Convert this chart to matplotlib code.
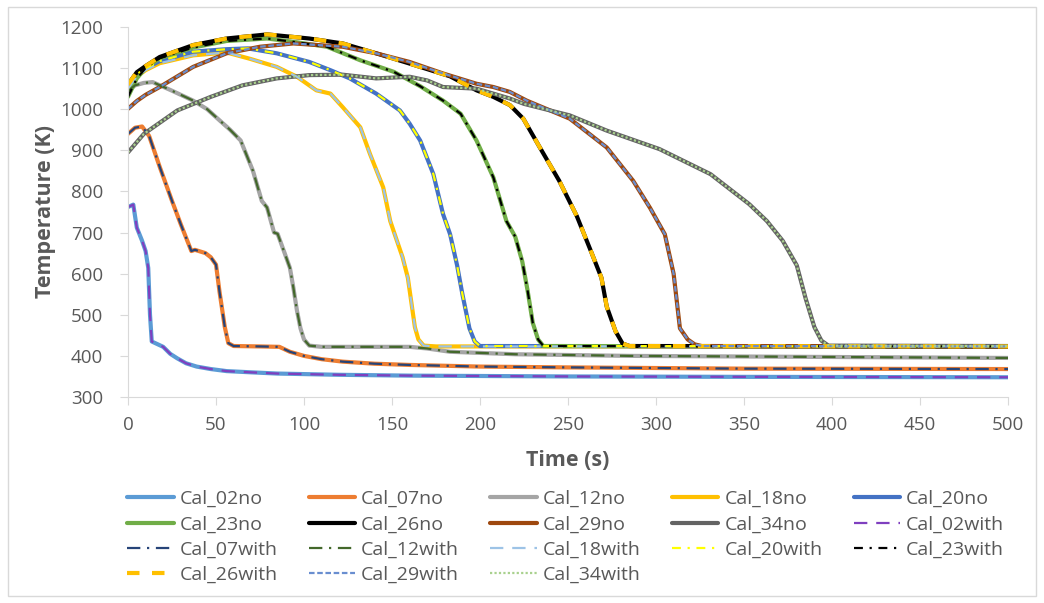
import matplotlib
matplotlib.use("Agg")
from matplotlib import pyplot as plt
from matplotlib.patches import Rectangle

plt.rcParams['font.family'] = ['Open Sans', 'DejaVu Sans']

# time (s) / temperature (K), one pair per calculation case
t_02 = [0, 3, 5, 8, 10, 11.5, 12.5, 13.5, 17, 20, 24, 28, 33, 39, 47, 56, 70, 85, 120, 160, 250, 350, 500]
T_02 = [762, 768, 712, 680, 655, 614, 500, 435, 428, 422, 405, 394, 382, 374, 368, 363, 360, 357, 354, 352, 350, 349, 348]

t_07 = [0, 4, 8, 12, 18, 25, 30, 36, 38, 44, 47, 50, 52, 55, 57, 60, 75, 86, 92, 100, 110, 122, 140, 160, 200, 250, 350, 500]
T_07 = [940, 955, 958, 935, 860, 777, 720, 655, 658, 650, 640, 622, 556, 470, 431, 424, 423, 422, 410, 400, 392, 386, 381, 378, 374, 372, 369, 368]

t_12 = [0, 4, 9, 14, 25, 37, 45, 52, 58, 64, 71, 76, 79, 83, 85, 89, 92, 94, 96, 98, 100, 103, 110, 160, 170, 183, 220, 285, 500]
T_12 = [1045, 1058, 1064, 1066, 1045, 1021, 1000, 973, 950, 924, 850, 777, 761, 700, 697, 650, 614, 565, 510, 467, 440, 425, 422, 422, 418, 410, 404, 400, 395]

t_18 = [0, 5, 10, 18, 37, 56, 69, 84.5, 96, 107, 115, 122, 132, 137.5, 145, 149, 152, 156, 159, 161, 163, 165, 168, 175, 500]
T_18 = [1050, 1080, 1095, 1112, 1131, 1138, 1123, 1103, 1079, 1046, 1038, 1005, 956, 891, 810, 728, 690, 640, 590, 530, 470, 440, 425, 423, 423]

t_20 = [0, 5, 10, 18, 37, 56, 68, 84.5, 103, 115, 126, 141, 154.5, 160, 166, 173.5, 179, 183, 187, 190, 194, 197, 200, 500]
T_20 = [1060, 1085, 1100, 1117, 1140, 1146, 1148, 1136, 1115, 1095, 1075, 1038, 997, 965, 924, 842, 745, 696, 620, 550, 467, 435, 424, 423]

t_23 = [0, 5, 10, 18, 37, 56, 79, 94, 113, 132, 151, 166, 179, 189, 198, 207.6, 215, 220, 224, 227, 230, 233, 236, 500]
T_23 = [1030, 1075, 1100, 1124, 1150, 1166, 1172, 1164, 1152, 1119, 1091, 1056, 1021, 989, 924, 834, 728, 690, 630, 560, 480, 440, 424, 423]

t_26 = [0, 5, 10, 18, 37, 56, 79, 103, 122, 141, 160, 183, 198, 207.6, 217, 224.6, 234, 245, 255, 263, 269, 272, 277, 281, 285, 500]
T_26 = [1060, 1090, 1105, 1127, 1156, 1172, 1182, 1172, 1160, 1136, 1111, 1080, 1046, 1030, 1010, 977, 907, 826, 740, 655, 590, 520, 460, 430, 424, 423]

t_29 = [0, 5, 10, 18, 37, 56, 75, 94, 122, 141, 160, 179, 198, 207.6, 217, 226.5, 251, 272, 287, 296.6, 305, 310, 313.6, 318, 322, 326, 500]
T_29 = [1001, 1020, 1035, 1054, 1103, 1136, 1152, 1160, 1152, 1136, 1115, 1087, 1062, 1054, 1042, 1021, 977, 907, 826, 760, 696, 600, 467, 440, 428, 424, 423]

t_34 = [0, 9, 28, 47, 65, 84.5, 103, 122, 141, 160, 170, 179, 198, 217, 225, 251, 272, 302, 331, 353, 363, 372, 380, 385, 390, 394, 398, 500]
T_34 = [895, 940, 997, 1030, 1058, 1075, 1083, 1084, 1075, 1079, 1070, 1054, 1050, 1026, 1013, 985, 948, 903, 842, 769, 728, 680, 620, 540, 470, 437, 425, 424]

cases = ['02', '07', '12', '18', '20', '23', '26', '29', '34']
times = [t_02, t_07, t_12, t_18, t_20, t_23, t_26, t_29, t_34]
temps = [T_02, T_07, T_12, T_18, T_20, T_23, T_26, T_29, T_34]

no_colors = ['#5B9BD5', '#ED7D31', '#A5A5A5', '#FFC000', '#4472C4',
             '#70AD47', '#000000', '#9E480E', '#636363']
with_colors = ['#7F3FBF', '#264478', '#43682B', '#9DC3E6', '#FFFF00',
               '#000000', '#FFC000', '#698ED0', '#A9D18E']
with_dashes = [(6, 4), (6, 3, 1, 3), (6, 3, 1, 3), (6, 4), (4, 3, 1, 3),
               (4, 3, 1, 3), (3, 3), (2.5, 1.2), (1, 1)]
with_widths = [1.6, 1.6, 1.6, 1.6, 1.6, 1.6, 3.0, 1.6, 1.6]

grey = '#595959'

fig = plt.figure(figsize=(10.44, 6.03), dpi=100)
ax = fig.add_axes([128/1044, 1-397/603, 880/1044, 370/603])

lines = []
for i in range(len(cases)):
    l, = ax.plot(times[i], temps[i], color=no_colors[i], lw=3.0,
                 solid_capstyle='round', label='Cal_' + cases[i] + 'no')
    lines.append(l)
for i in range(len(cases)):
    l, = ax.plot(times[i], temps[i], color=with_colors[i], lw=with_widths[i],
                 dashes=with_dashes[i], label='Cal_' + cases[i] + 'with')
    lines.append(l)

ax.set_xlim(0, 500)
ax.set_ylim(300, 1200)
ax.set_xticks(range(0, 501, 50))
ax.set_yticks(range(300, 1201, 100))
for s in ['top', 'right']:
    ax.spines[s].set_visible(False)
for s in ['left', 'bottom']:
    ax.spines[s].set_color('#D9D9D9')
ax.tick_params(axis='both', direction='out', length=6, color='#D9D9D9',
               labelcolor=grey, labelsize=13.5)
ax.tick_params(axis='y', pad=12)
ax.tick_params(axis='x', pad=8)
ax.set_xlabel('Time (s)', fontsize=15.5, fontweight='bold', color=grey, labelpad=11)
ax.set_ylabel('Temperature (K)', fontsize=15.5, fontweight='bold', color=grey, labelpad=3)

# legend filled row by row, 5 columns
order = []
for c in range(5):
    for r in range(4):
        k = r*5 + c
        if k < len(lines):
            order.append(k)
fig.legend([lines[k] for k in order], [lines[k].get_label() for k in order],
           ncol=5, loc='upper left', bbox_to_anchor=(127/1044, 1-490/603),
           frameon=False, fontsize=14, labelcolor=grey, handlelength=2.4,
           handletextpad=0.3, columnspacing=1.6, labelspacing=0.38,
           borderpad=0, borderaxespad=0)

fig.patches.append(Rectangle((8/1044, 7/603), 1028/1044, 589/603, transform=fig.transFigure,
                             fill=False, edgecolor='#D9D9D9', lw=1))

fig.savefig('out.png', dpi=100, facecolor='white')
